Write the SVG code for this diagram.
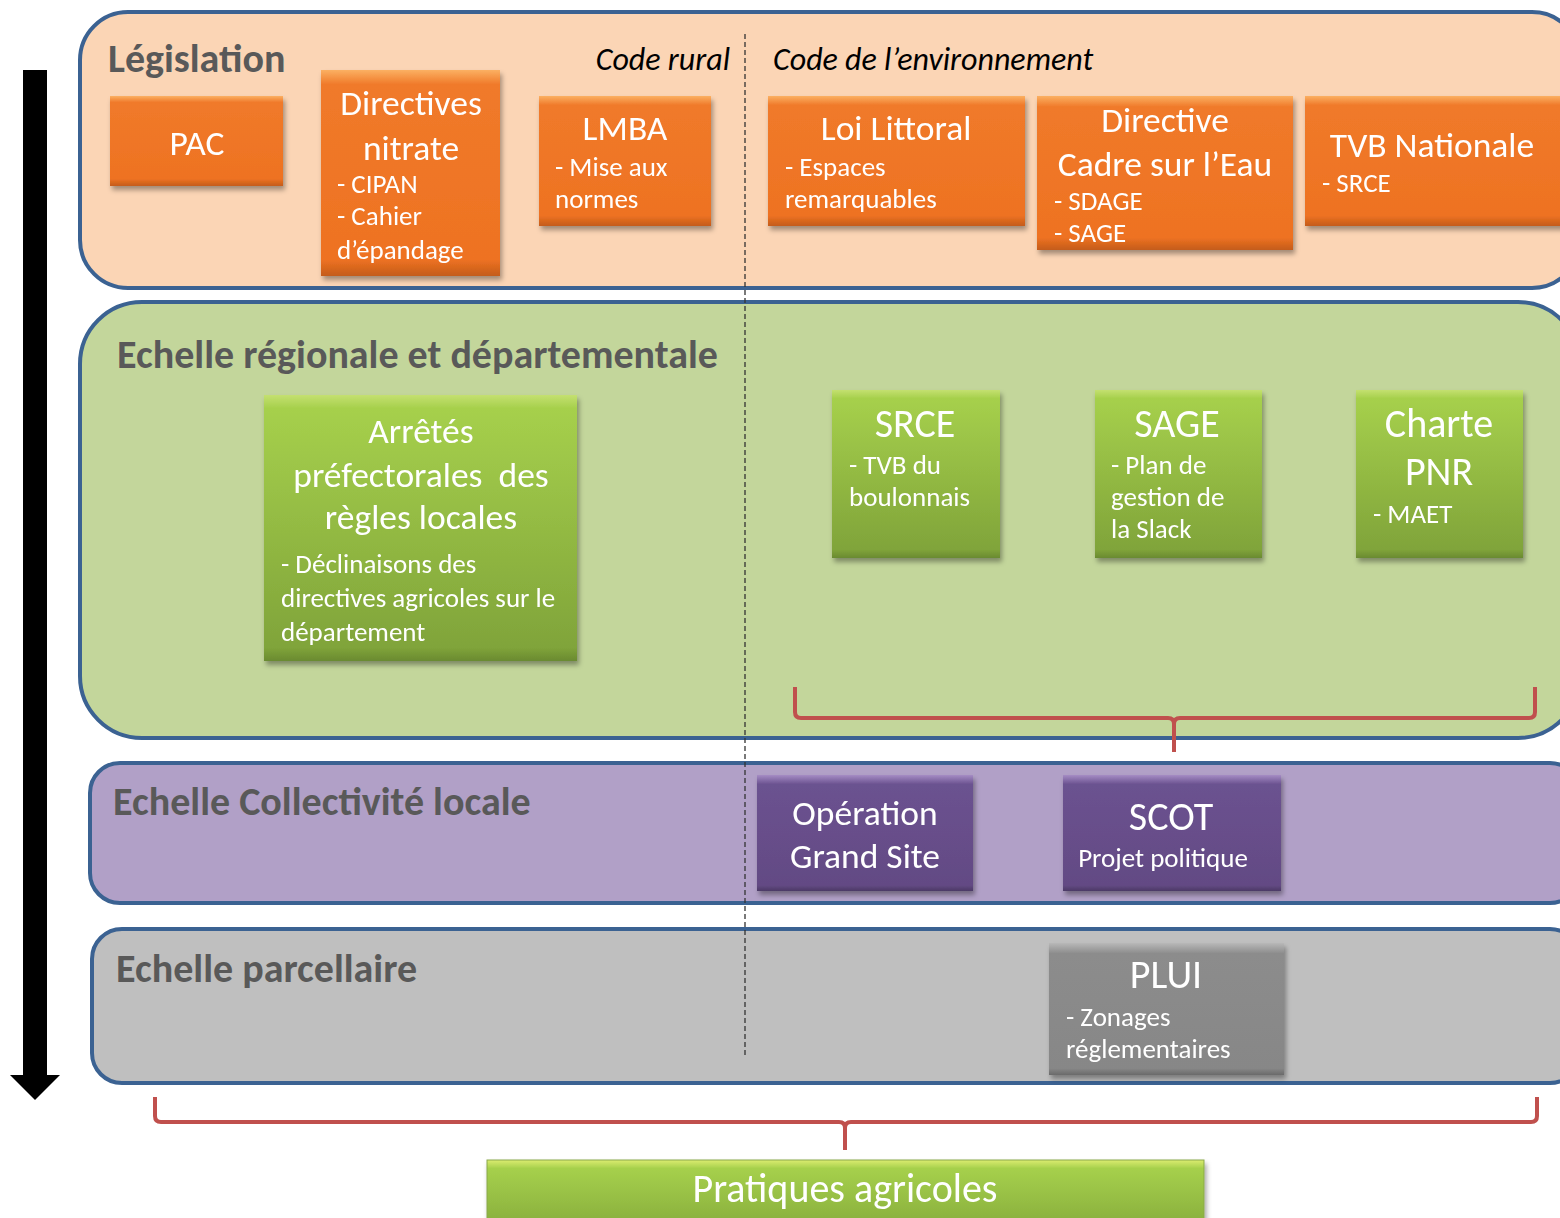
<svg xmlns="http://www.w3.org/2000/svg" width="1560" height="1218" viewBox="0 0 1560 1218">
<defs>
<style>
.t{font-family:Carlito,Lato,"Liberation Sans",sans-serif;fill:#fff}
.h{font-family:Carlito,Lato,"Liberation Sans",sans-serif;font-weight:bold;fill:#595959;font-size:40px}
.i{font-family:Carlito,Lato,"Liberation Sans",sans-serif;font-style:italic;fill:#000;font-size:32px}
.c{text-anchor:middle}
.b{font-size:35.5px}
.L{font-size:40px}
.s{font-size:27px}
.band{stroke:#3b6292;stroke-width:4}
.brace{fill:none;stroke:#c0504d;stroke-width:4;stroke-linejoin:round}
</style>
<linearGradient id="go" x1="0" y1="0" x2="0" y2="1">
<stop offset="0" stop-color="#fbb062"/><stop offset="0.07" stop-color="#f07a2a"/><stop offset="0.92" stop-color="#ee7222"/><stop offset="1" stop-color="#c45c1a"/>
</linearGradient>
<linearGradient id="gg" x1="0" y1="0" x2="0" y2="1">
<stop offset="0" stop-color="#c4e070"/><stop offset="0.05" stop-color="#a6d04c"/><stop offset="0.95" stop-color="#80a43a"/><stop offset="1" stop-color="#6a8a30"/>
</linearGradient>
<linearGradient id="gp" x1="0" y1="0" x2="0" y2="1">
<stop offset="0" stop-color="#a58cc4"/><stop offset="0.08" stop-color="#6b5290"/><stop offset="0.95" stop-color="#634a84"/><stop offset="1" stop-color="#4c3a66"/>
</linearGradient>
<linearGradient id="gy" x1="0" y1="0" x2="0" y2="1">
<stop offset="0" stop-color="#b8b8b8"/><stop offset="0.08" stop-color="#8c8c8c"/><stop offset="0.95" stop-color="#878787"/><stop offset="1" stop-color="#6a6a6a"/>
</linearGradient>
<linearGradient id="gpr" x1="0" y1="0" x2="0" y2="1">
<stop offset="0" stop-color="#dcec70"/><stop offset="0.12" stop-color="#a6d04c"/><stop offset="1" stop-color="#86ac3c"/>
</linearGradient>
<filter id="sh" x="-10%" y="-10%" width="120%" height="125%">
<feDropShadow dx="2" dy="4" stdDeviation="2.5" flood-color="#000" flood-opacity="0.35"/>
</filter>
</defs>

<g id="bands">
<rect id="band-legislation" class="band" x="80" y="12" width="1500" height="276" rx="48" fill="#fbd5b5"/>
<rect id="band-regionale" class="band" x="80" y="302" width="1500" height="436" rx="62" fill="#c3d69b"/>
<rect id="band-collectivite" class="band" x="90" y="763" width="1490" height="140" rx="30" fill="#b1a0c7"/>
<rect id="band-parcellaire" class="band" x="92" y="929" width="1488" height="154" rx="30" fill="#bfbfbf"/>
</g>

<line x1="745" y1="34" x2="745" y2="1057" stroke="#333" stroke-width="1.3" stroke-dasharray="5,3"/>

<g id="arrow">
<rect x="23" y="70" width="24" height="1008" fill="#000"/>
<polygon points="10,1075 60,1075 35,1100" fill="#000"/>
</g>

<g id="headers">
<text class="h" x="108" y="72">Législation</text>
<text class="i" x="730" y="70" text-anchor="end">Code rural</text>
<text class="i" x="773" y="70">Code de l’environnement</text>
<text class="h" x="117" y="368">Echelle régionale et départementale</text>
<text class="h" x="113" y="815">Echelle Collectivité locale</text>
<text class="h" x="116" y="982">Echelle parcellaire</text>
</g>

<g id="connectors">
<path class="brace" d="M795,687 V712 Q795,718 801,718 H1168 Q1174,718 1174,724 V752 M1174,724 Q1174,718 1180,718 H1529 Q1535,718 1535,712 V687"/>
<path class="brace" d="M155,1097 V1116 Q155,1122 161,1122 H839 Q845,1122 845,1128 V1150 M845,1128 Q845,1122 851,1122 H1531 Q1537,1122 1537,1116 V1097"/>
</g>

<g id="pac" filter="url(#sh)">
<rect x="110" y="96" width="173" height="90" fill="url(#go)"/>
<text class="t b c" x="197" y="155">PAC</text>
</g>
<g id="directives-nitrate" filter="url(#sh)">
<rect x="321" y="70" width="179" height="206" fill="url(#go)"/>
<text class="t b c" x="411" y="115">Directives</text>
<text class="t b c" x="411" y="160">nitrate</text>
<text class="t s" x="337" y="193">- CIPAN</text>
<text class="t s" x="337" y="225">- Cahier</text>
<text class="t s" x="337" y="259">d’épandage</text>
</g>
<g id="lmba" filter="url(#sh)">
<rect x="539" y="96" width="172" height="130" fill="url(#go)"/>
<text class="t b c" x="625" y="140">LMBA</text>
<text class="t s" x="555" y="176">- Mise aux</text>
<text class="t s" x="555" y="208">normes</text>
</g>
<g id="loi-littoral" filter="url(#sh)">
<rect x="768" y="96" width="257" height="130" fill="url(#go)"/>
<text class="t b c" x="896" y="140">Loi Littoral</text>
<text class="t s" x="785" y="176">- Espaces</text>
<text class="t s" x="785" y="208">remarquables</text>
</g>
<g id="directive-cadre-eau" filter="url(#sh)">
<rect x="1037" y="96" width="256" height="154" fill="url(#go)"/>
<text class="t b c" x="1165" y="132">Directive</text>
<text class="t b c" x="1165" y="176">Cadre sur l’Eau</text>
<text class="t s" x="1054" y="210">- SDAGE</text>
<text class="t s" x="1054" y="242">- SAGE</text>
</g>
<g id="tvb-nationale" filter="url(#sh)">
<rect x="1305" y="96" width="265" height="130" fill="url(#go)"/>
<text class="t b c" x="1432" y="157">TVB Nationale</text>
<text class="t s" x="1322" y="192">- SRCE</text>
</g>

<g id="arretes" filter="url(#sh)">
<rect x="264" y="395" width="313" height="266" fill="url(#gg)"/>
<text class="t b c" x="421" y="443">Arrêtés</text>
<text class="t b c" x="421" y="487" xml:space="preserve">préfectorales  des</text>
<text class="t b c" x="421" y="529">règles locales</text>
<text class="t s" x="281" y="573">- Déclinaisons des</text>
<text class="t s" x="281" y="607">directives agricoles sur le</text>
<text class="t s" x="281" y="641">département</text>
</g>
<g id="srce" filter="url(#sh)">
<rect x="832" y="390" width="168" height="168" fill="url(#gg)"/>
<text class="t c L" x="915" y="437">SRCE</text>
<text class="t s" x="849" y="474">- TVB du</text>
<text class="t s" x="849" y="506">boulonnais</text>
</g>
<g id="sage" filter="url(#sh)">
<rect x="1095" y="390" width="167" height="168" fill="url(#gg)"/>
<text class="t c L" x="1177" y="437">SAGE</text>
<text class="t s" x="1111" y="474">- Plan de</text>
<text class="t s" x="1111" y="506">gestion de</text>
<text class="t s" x="1111" y="538">la Slack</text>
</g>
<g id="charte-pnr" filter="url(#sh)">
<rect x="1356" y="390" width="167" height="168" fill="url(#gg)"/>
<text class="t c L" x="1439" y="437">Charte</text>
<text class="t c L" x="1439" y="485">PNR</text>
<text class="t s" x="1373" y="523">- MAET</text>
</g>

<g id="operation-grand-site" filter="url(#sh)">
<rect x="757" y="775" width="216" height="116" fill="url(#gp)"/>
<text class="t b c" x="865" y="825">Opération</text>
<text class="t b c" x="865" y="868">Grand Site</text>
</g>
<g id="scot" filter="url(#sh)">
<rect x="1063" y="775" width="218" height="116" fill="url(#gp)"/>
<text class="t c L" x="1171" y="830">SCOT</text>
<text class="t s c" x="1163" y="867">Projet politique</text>
</g>

<g id="plui" filter="url(#sh)">
<rect x="1049" y="943" width="235" height="132" fill="url(#gy)"/>
<text class="t c L" x="1166" y="988">PLUI</text>
<text class="t s" x="1066" y="1026">- Zonages</text>
<text class="t s" x="1066" y="1058">réglementaires</text>
</g>

<g id="pratiques-agricoles" filter="url(#sh)">
<rect x="487" y="1160" width="717" height="70" fill="url(#gpr)" stroke="#8aa84a" stroke-width="1"/>
<text class="t c L" x="845" y="1202">Pratiques agricoles</text>
</g>
</svg>
